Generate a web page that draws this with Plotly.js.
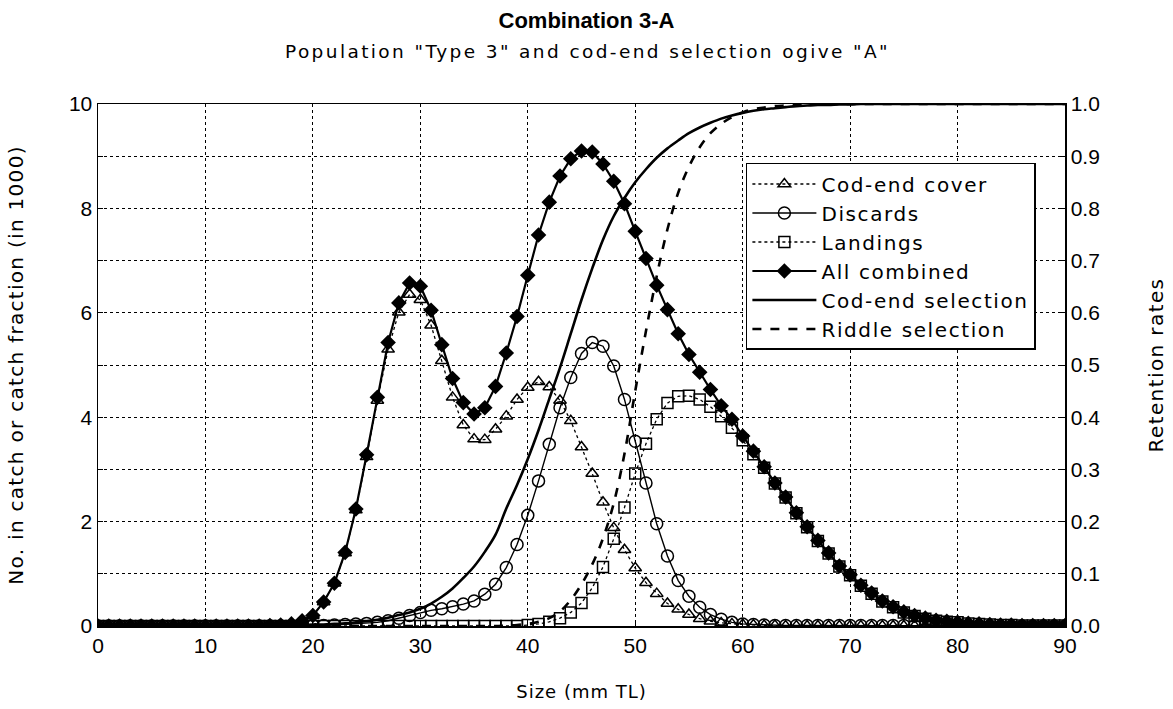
<!DOCTYPE html>
<html>
<head>
<meta charset="utf-8">
<script src="https://cdn.plot.ly/plotly-3.0.1.min.js"></script>
<style>
  html, body { margin: 0; padding: 0; background: #fff; }
  #chart { width: 1173px; height: 709px; }
</style>
</head>
<body>
<div id="chart"></div>
<script>
// Size classes (mm TL), one per 1 mm bin
const sizes = [0,1,2,3,4,5,6,7,8,9,10,11,12,13,14,15,16,17,18,19,20,21,22,23,24,25,26,27,28,29,30,
  31,32,33,34,35,36,37,38,39,40,41,42,43,44,45,46,47,48,49,50,51,52,53,54,55,56,57,58,59,60,
  61,62,63,64,65,66,67,68,69,70,71,72,73,74,75,76,77,78,79,80,81,82,83,84,85,86,87,88,89,90];

// Numbers (in 1000) per size class
const codEndCover = [0,0,0,0,0,0,0,0,0,0,0,0,0,0,0,0,0.01,0.02,0.04,0.1,0.2,
  0.46,0.82,1.4,2.22,3.24,4.32,5.3,6.01,6.35,6.25,
  5.76,5.08,4.38,3.85,3.58,3.57,3.77,4.02,4.34,4.57,
  4.68,4.58,4.32,3.93,3.43,2.92,2.37,1.88,1.46,1.11,
  0.83,0.62,0.43,0.32,0.22,0.14,0.09,0.06,0.04,0.03,
  0.02,0.01,0.01,0,0,0,0,0,0,0,0,0,0,0,0,0,0,0,0,0,0,0,0,0,0,0,0,0,0,0];

const discards = [0,0,0,0,0,0,0,0,0,0,0,0,0,0,0,0,0,0,0,0,0.01,
  0.01,0.02,0.03,0.04,0.05,0.07,0.1,0.15,0.2,0.26,
  0.3,0.33,0.37,0.42,0.48,0.61,0.8,1.12,1.56,2.12,
  2.78,3.48,4.18,4.76,5.22,5.43,5.36,4.98,4.34,3.54,
  2.74,1.96,1.34,0.87,0.57,0.36,0.22,0.13,0.07,0.04,
  0.03,0.02,0.01,0.01,0.01,0.01,0.01,0.01,0.01,0.01,0.01,0.01,0.01,0.01,0.01,0.01,0.01,0.01,0.01,0.01,
  0,0,0,0,0,0,0,0,0,0];

const landings = [0,0,0,0,0,0,0,0,0,0,0,0,0,0,0,0,0,0,0,0,0,
  0,0,0,0,0,0,0,0,0,0,
  0,0,0,0,0,0,0,0,0,0.02,
  0.04,0.08,0.15,0.26,0.44,0.73,1.13,1.67,2.27,2.92,
  3.49,3.96,4.27,4.4,4.41,4.34,4.2,4.02,3.8,3.56,
  3.29,3.03,2.73,2.46,2.16,1.89,1.63,1.39,1.14,0.97,
  0.77,0.62,0.47,0.36,0.26,0.19,0.14,0.1,0.08,0.07,
  0.05,0.04,0.03,0.02,0.02,0.01,0.01,0.01,0.01,0.01];

const allCombined = [0,0,0,0,0,0,0,0,0,0,0,0,0,0,0,0,0.01,0.02,0.04,0.1,0.2,
  0.46,0.82,1.41,2.24,3.28,4.38,5.43,6.19,6.57,6.51,
  6.05,5.39,4.74,4.28,4.06,4.18,4.59,5.23,5.93,6.72,
  7.49,8.12,8.62,8.95,9.1,9.08,8.85,8.52,8.09,7.56,
  7.04,6.53,6.06,5.6,5.2,4.86,4.53,4.22,3.96,3.64,
  3.35,3.05,2.74,2.47,2.17,1.9,1.64,1.4,1.15,0.98,
  0.78,0.63,0.48,0.37,0.27,0.2,0.15,0.11,0.09,0.07,
  0.05,0.04,0.03,0.02,0.02,0.01,0.01,0.01,0.01,0.01];

// Retention rates (right axis)
const codEndSelection = [0,0,0,0,0,0,0,0,0,0,0,0,0,0,0,0.001,0.001,0.001,0.002,0.002,0.003,
  0.003,0.004,0.005,0.007,0.009,0.012,0.016,0.021,0.026,0.033,
  0.043,0.056,0.072,0.092,0.114,0.142,0.175,0.225,0.27,0.32,
  0.375,0.435,0.495,0.56,0.625,0.685,0.74,0.785,0.82,0.85,
  0.875,0.897,0.915,0.93,0.944,0.955,0.964,0.972,0.978,0.983,
  0.987,0.99,0.992,0.994,0.996,0.997,0.998,0.998,0.999,0.999,
  1,1,1,1,1,1,1,1,1,1,1,1,1,1,1,1,1,1,1,1];

const riddleSelection = [0,0,0,0,0,0,0,0,0,0,0,0,0,0,0,0,0,0,0,0,0,
  0,0,0,0,0,0,0,0,0,0,
  0,0,0,0,0,0,0,0.001,0.002,0.004,
  0.008,0.015,0.028,0.05,0.08,0.118,0.168,0.235,0.33,0.45,
  0.565,0.67,0.76,0.83,0.88,0.917,0.944,0.962,0.975,0.984,
  0.99,0.993,0.996,0.997,0.998,0.999,1,1,1,1,
  1,1,1,1,1,1,1,1,1,1,1,1,1,1,1,1,1,1,1,1];

const xTicks = [0,10,20,30,40,50,60,70,80,90];
const yTicks = [0,2,4,6,8,10];
const y2Ticks = [0,0.1,0.2,0.3,0.4,0.5,0.6,0.7,0.8,0.9,1.0];

const INK = '#000';
const FONT = 'Liberation Sans, Arial, Helvetica, sans-serif';
const WIDE = 'DejaVu Sans, Verdana, sans-serif';

// wrap a label so it is drawn with extra letter spacing
const spaced = (txt, px) => `<span style="letter-spacing:${px}px">${txt}</span>`;

const traces = [
  {
    name: spaced('Cod-end cover', 1.6), x: sizes, y: codEndCover, type: 'scatter', mode: 'lines+markers',
    line: {color: INK, width: 1.3, dash: 'dot'},
    marker: {symbol: 'triangle-up-open', size: 11, color: INK, line: {width: 1.5, color: INK}}
  },
  {
    name: spaced('Discards', 1.6), x: sizes, y: discards, type: 'scatter', mode: 'lines+markers',
    line: {color: INK, width: 1.4},
    marker: {symbol: 'circle-open', size: 12, color: INK, line: {width: 1.5, color: INK}}
  },
  {
    name: spaced('Landings', 1.6), x: sizes, y: landings, type: 'scatter', mode: 'lines+markers',
    line: {color: INK, width: 1.3, dash: 'dot'},
    marker: {symbol: 'square-open', size: 11, color: INK, line: {width: 1.5, color: INK}}
  },
  {
    name: spaced('All combined', 1.6), x: sizes, y: allCombined, type: 'scatter', mode: 'lines+markers',
    line: {color: INK, width: 2.2},
    marker: {symbol: 'diamond', size: 12, color: INK}
  },
  {
    name: spaced('Cod-end selection', 1.6), x: sizes, y: codEndSelection, type: 'scatter', mode: 'lines',
    yaxis: 'y2', line: {color: INK, width: 2.6, shape: 'spline'}
  },
  {
    name: spaced('Riddle selection', 1.6), x: sizes, y: riddleSelection, type: 'scatter', mode: 'lines',
    yaxis: 'y2', line: {color: INK, width: 2.6, dash: 'dash', shape: 'spline'}
  }
];

const layout = {
  width: 1173, height: 709,
  margin: {l: 98, r: 108, t: 104, b: 83},
  paper_bgcolor: '#fff', plot_bgcolor: '#fff',
  font: {family: FONT, color: INK, size: 20},
  showlegend: true,
  title: {
    text: '<b>Combination 3-A</b>',
    font: {family: FONT, size: 22, color: INK},
    x: 0.5, xanchor: 'center', y: 0.972, yanchor: 'middle'
  },
  annotations: [{
    text: spaced('Population "Type 3" and cod-end selection ogive "A"', 2.4),
    xref: 'paper', yref: 'paper', x: 0.5057, y: 1.1, xanchor: 'center', yanchor: 'middle',
    showarrow: false, font: {family: WIDE, size: 18.5, color: INK}
  }],
  xaxis: {
    range: [0, 90], tickvals: xTicks, ticktext: xTicks.map(String),
    showline: true, linecolor: INK, linewidth: 1.5, mirror: true,
    ticks: 'inside', ticklen: 5, tickcolor: INK,
    showgrid: true, gridcolor: INK, gridwidth: 1, griddash: 'dot',
    zeroline: false, tickfont: {size: 21},
    title: {text: spaced('Size (mm TL)', 1), font: {family: WIDE, size: 18}, standoff: 29}
  },
  yaxis: {
    range: [0, 10], tickvals: yTicks, ticktext: yTicks.map(String),
    showline: true, linecolor: INK, linewidth: 1.5, mirror: true,
    ticks: 'inside', ticklen: 5, tickcolor: INK,
    showgrid: true, gridcolor: INK, gridwidth: 1, griddash: 'dot',
    minor: {dtick: 1, ticks: 'inside', ticklen: 5, tickcolor: INK,
            showgrid: true, gridcolor: INK, gridwidth: 1, griddash: 'dot'},
    zeroline: false, tickfont: {size: 21},
    title: {text: spaced('No. in catch or catch fraction (in 1000)', 1.3), font: {family: WIDE, size: 20}, standoff: 40}
  },
  yaxis2: {
    overlaying: 'y', side: 'right', range: [0, 1],
    tickvals: y2Ticks, ticktext: y2Ticks.map(v => v.toFixed(1)),
    showline: true, linecolor: INK, linewidth: 1.5,
    ticks: 'inside', ticklen: 5, tickcolor: INK,
    showgrid: false, zeroline: false, tickfont: {size: 21},
    title: {text: spaced('Retention rates', 1.4), font: {family: WIDE, size: 20}, standoff: 50}
  },
  legend: {
    x: 0.670, y: 0.887, xanchor: 'left', yanchor: 'top',
    bgcolor: '#fff', bordercolor: INK, borderwidth: 1.5,
    font: {family: WIDE, size: 20, color: INK},
    itemwidth: 64, tracegroupgap: 0
  }
};

Plotly.newPlot('chart', traces, layout, {staticPlot: true, displayModeBar: false});
</script>
</body>
</html>
